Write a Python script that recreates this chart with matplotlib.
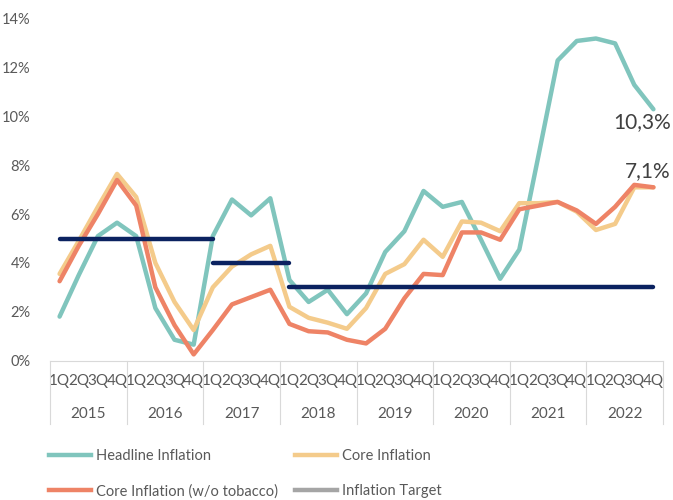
import matplotlib
matplotlib.use("Agg")
import matplotlib.pyplot as plt
import numpy as np
from matplotlib.lines import Line2D

plt.rcParams['font.family'] = ['Lato', 'DejaVu Sans']

# quarterly data 2015Q1 .. 2022Q4, in percent
years = ["2015", "2016", "2017", "2018", "2019", "2020", "2021", "2022"]
quarters = ["1Q", "2Q", "3Q", "4Q"]

headline = [1.8, 3.5, 5.1, 5.65, 5.1, 2.15, 0.85, 0.65,
            5.1, 6.6, 5.95, 6.65, 3.3, 2.4, 2.9, 1.9,
            2.75, 4.45, 5.3, 6.95, 6.3, 6.5, 4.95, 3.35,
            4.55, 8.4, 12.3, 13.1, 13.2, 13.0, 11.3, 10.3]
core = [3.55, 4.9, 6.3, 7.65, 6.7, 4.0, 2.4, 1.25,
        3.0, 3.85, 4.35, 4.7, 2.2, 1.75, 1.55, 1.3,
        2.15, 3.55, 3.95, 4.95, 4.25, 5.7, 5.65, 5.3,
        6.45, 6.45, 6.5, 6.1, 5.35, 5.6, 7.1, 7.1]
core_no_tobacco = [3.25, 4.7, 6.0, 7.4, 6.35, 3.0, 1.45, 0.25,
                   1.25, 2.3, 2.6, 2.9, 1.5, 1.2, 1.15, 0.85,
                   0.7, 1.3, 2.55, 3.55, 3.5, 5.25, 5.25, 4.95,
                   6.2, 6.35, 6.5, 6.15, 5.6, 6.3, 7.2, 7.1]
# inflation target, one series per target period
target_1 = [5.0] * 9 + [np.nan] * 23
target_2 = [np.nan] * 8 + [4.0] * 5 + [np.nan] * 19
target_3 = [np.nan] * 12 + [3.0] * 20

teal = "#80C5BD"
yellow = "#F4CB8B"
red = "#EE8366"
navy = "#0B2260"
txt = "#595959"

fig = plt.figure(figsize=(6.73, 5.0), dpi=100)
ax = fig.add_axes([50 / 673, 1 - 360.5 / 500, 613 / 673, 341.5 / 500])

x = np.arange(len(headline))
ax.plot(x, headline, color=teal, lw=3.2, solid_capstyle="round", zorder=3)
ax.plot(x, core, color=yellow, lw=3.2, solid_capstyle="round", zorder=3)
ax.plot(x, core_no_tobacco, color=red, lw=3.2, solid_capstyle="round", zorder=4)
for t in (target_1, target_2, target_3):
    ax.plot(x, t, color=navy, lw=3.2, solid_capstyle="round", zorder=5)

ax.annotate(f"{headline[-1]:.1f}%".replace(".", ","), (x[-1], headline[-1]),
            xytext=(-8, -9), textcoords="offset points", ha="center", va="center",
            fontsize=15, color="#404040")
ax.annotate(f"{core_no_tobacco[-1]:.1f}%".replace(".", ","), (x[-1], core_no_tobacco[-1]),
            xytext=(-4, 12), textcoords="offset points", ha="center", va="center",
            fontsize=15, color="#404040")

ax.set_xlim(-0.5, len(x) - 0.5)
ax.set_ylim(0, 14)
ax.set_yticks(np.arange(0, 15, 2))
ax.set_yticklabels([f"{v}%" for v in range(0, 15, 2)])
ax.set_xticks(x)
ax.set_xticklabels(quarters * len(years))
ax.tick_params(axis="both", length=0, colors=txt, labelsize=10.5)
ax.tick_params(axis="x", pad=10, labelsize=11)
ax.tick_params(axis="y", pad=14)

for s in ("top", "right", "left"):
    ax.spines[s].set_visible(False)
ax.spines["bottom"].set_color("#D9D9D9")

# year labels and separators below the quarter labels
tr = ax.get_xaxis_transform()
for i, yr in enumerate(years):
    ax.text(i * 4 + 1.5, -0.156, yr, transform=tr, ha="center", va="center",
            fontsize=11, color=txt)
for i in range(len(years) + 1):
    ax.add_line(Line2D([i * 4 - 0.5] * 2, [0, -0.186], transform=tr,
                       color="#D9D9D9", lw=0.8, clip_on=False))

handles = [Line2D([], [], color=teal, lw=3.2),
           Line2D([], [], color=red, lw=3.2),
           Line2D([], [], color=yellow, lw=3.2),
           Line2D([], [], color="#A5A5A5", lw=3.2)]
labels = ["Headline Inflation", "Core Inflation (w/o tobacco)",
          "Core Inflation", "Inflation Target"]
fig.legend(handles, labels, ncol=2, loc="upper left",
           bbox_to_anchor=(49 / 673, 1 - 449 / 500), frameon=False,
           borderpad=0, borderaxespad=0,
           fontsize=10.5, labelcolor=txt, handlelength=2.9,
           handletextpad=0.3, columnspacing=1.2, labelspacing=1.45)

fig.savefig("out.png", dpi=100)
